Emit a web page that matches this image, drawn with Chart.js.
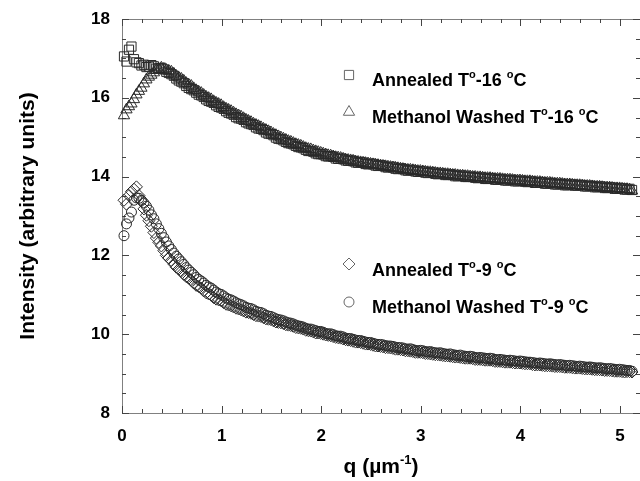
<!DOCTYPE html>
<html>
<head>
<meta charset="utf-8">
<script src="https://cdn.jsdelivr.net/npm/chart.js@4.4.0/dist/chart.umd.min.js"></script>
<style>
html, body { margin: 0; padding: 0; background: #fff; overflow: hidden; }
#wrap { width: 640px; height: 481px; position: relative; }
</style>
</head>
<body>
<div id="wrap"><canvas id="chart"></canvas></div>
<script>
// q values (µm^-1), shared by all four series
const q = [
    0.02, 0.07, 0.12, 0.17, 0.22, 0.27, 0.32, 0.37, 0.42, 0.47,
    0.52, 0.57, 0.62, 0.67, 0.72, 0.77, 0.82, 0.87, 0.92, 0.97,
    1.02, 1.07, 1.12, 1.17, 1.22, 1.27, 1.32, 1.37, 1.42, 1.47,
    1.52, 1.57, 1.62, 1.67, 1.72, 1.77, 1.82, 1.87, 1.92, 1.97,
    2.02, 2.07, 2.12, 2.17, 2.22, 2.27, 2.32, 2.37, 2.42, 2.47,
    2.52, 2.57, 2.62, 2.67, 2.72, 2.77, 2.82, 2.87, 2.92, 2.97,
    3.02, 3.07, 3.12, 3.17, 3.22, 3.27, 3.32, 3.37, 3.42, 3.47,
    3.52, 3.57, 3.62, 3.67, 3.72, 3.77, 3.82, 3.87, 3.92, 3.97,
    4.02, 4.07, 4.12, 4.17, 4.22, 4.27, 4.32, 4.37, 4.42, 4.47,
    4.52, 4.57, 4.62, 4.67, 4.72, 4.77, 4.82, 4.87, 4.92, 4.97,
    5.02, 5.07, 5.12
];
// the in-between measurement points
const qMid = [
    0.045, 0.095, 0.145, 0.195, 0.245, 0.295, 0.345, 0.395, 0.445, 0.495,
    0.545, 0.595, 0.645, 0.695, 0.745, 0.795, 0.845, 0.895, 0.945, 0.995,
    1.045, 1.095, 1.145, 1.195, 1.245, 1.295, 1.345, 1.395, 1.445, 1.495,
    1.545, 1.595, 1.645, 1.695, 1.745, 1.795, 1.845, 1.895, 1.945, 1.995,
    2.045, 2.095, 2.145, 2.195, 2.245, 2.295, 2.345, 2.395, 2.445, 2.495,
    2.545, 2.595, 2.645, 2.695, 2.745, 2.795, 2.845, 2.895, 2.945, 2.995,
    3.045, 3.095, 3.145, 3.195, 3.245, 3.295, 3.345, 3.395, 3.445, 3.495,
    3.545, 3.595, 3.645, 3.695, 3.745, 3.795, 3.845, 3.895, 3.945, 3.995,
    4.045, 4.095, 4.145, 4.195, 4.245, 4.295, 4.345, 4.395, 4.445, 4.495,
    4.545, 4.595, 4.645, 4.695, 4.745, 4.795, 4.845, 4.895, 4.945, 4.995,
    5.045, 5.095
];

const annealed16 = [
    17.05, 17.22, 16.98, 16.88, 16.84, 16.79, 16.80, 16.75, 16.72, 16.63,
    16.56, 16.44, 16.37, 16.25, 16.19, 16.08, 16.02, 15.92, 15.87, 15.77,
    15.72, 15.62, 15.57, 15.48, 15.44, 15.35, 15.31, 15.22, 15.18, 15.09,
    15.05, 14.96, 14.92, 14.85, 14.82, 14.75, 14.72, 14.65, 14.63, 14.57,
    14.56, 14.51, 14.50, 14.45, 14.44, 14.40, 14.39, 14.35, 14.35, 14.31,
    14.31, 14.27, 14.27, 14.23, 14.23, 14.19, 14.19, 14.15, 14.16, 14.12,
    14.13, 14.09, 14.10, 14.06, 14.07, 14.04, 14.04, 14.01, 14.02, 13.99,
    13.99, 13.96, 13.97, 13.94, 13.95, 13.92, 13.93, 13.90, 13.91, 13.88,
    13.89, 13.86, 13.87, 13.84, 13.85, 13.82, 13.83, 13.80, 13.81, 13.78,
    13.80, 13.77, 13.78, 13.75, 13.76, 13.73, 13.74, 13.71, 13.72, 13.69,
    13.70, 13.67, 13.66
];
const annealed16Mid = [
    16.92, 17.30, 16.90, 16.82, 16.78, 16.83, 16.74, 16.76, 16.66, 16.60,
    16.49, 16.41, 16.30, 16.22, 16.13, 16.06, 15.96, 15.90, 15.81, 15.75,
    15.66, 15.60, 15.51, 15.47, 15.38, 15.33, 15.25, 15.21, 15.12, 15.08,
    14.99, 14.95, 14.88, 14.84, 14.78, 14.74, 14.68, 14.65, 14.59, 14.57,
    14.52, 14.52, 14.46, 14.46, 14.41, 14.41, 14.36, 14.37, 14.32, 14.33,
    14.28, 14.29, 14.24, 14.25, 14.20, 14.21, 14.16, 14.17, 14.13, 14.14,
    14.10, 14.11, 14.07, 14.08, 14.04, 14.06, 14.01, 14.03, 13.99, 14.00,
    13.97, 13.98, 13.94, 13.96, 13.92, 13.94, 13.90, 13.92, 13.88, 13.90,
    13.87, 13.88, 13.84, 13.86, 13.82, 13.84, 13.80, 13.82, 13.78, 13.80,
    13.77, 13.79, 13.75, 13.77, 13.73, 13.75, 13.71, 13.73, 13.69, 13.71,
    13.67, 13.69
];

const methanol16 = [
    15.55, 15.78, 15.96, 16.17, 16.36, 16.53, 16.64, 16.72, 16.73, 16.68,
    16.61, 16.51, 16.43, 16.33, 16.24, 16.15, 16.07, 15.99, 15.91, 15.84,
    15.76, 15.69, 15.62, 15.55, 15.48, 15.41, 15.34, 15.28, 15.21, 15.15,
    15.08, 15.02, 14.96, 14.90, 14.85, 14.80, 14.75, 14.70, 14.66, 14.62,
    14.58, 14.54, 14.51, 14.48, 14.45, 14.42, 14.40, 14.37, 14.35, 14.33,
    14.31, 14.29, 14.27, 14.25, 14.23, 14.21, 14.19, 14.17, 14.16, 14.14,
    14.13, 14.11, 14.10, 14.08, 14.07, 14.06, 14.04, 14.03, 14.02, 14.01,
    13.99, 13.98, 13.97, 13.96, 13.95, 13.94, 13.93, 13.92, 13.91, 13.90,
    13.89, 13.88, 13.87, 13.86, 13.85, 13.84, 13.83, 13.82, 13.81, 13.80,
    13.79, 13.78, 13.77, 13.76, 13.75, 13.74, 13.73, 13.72, 13.71, 13.70,
    13.69, 13.68, 13.64
];
const methanol16Mid = [
    15.70, 15.85, 16.08, 16.25, 16.46, 16.58, 16.70, 16.76, 16.70, 16.66,
    16.55, 16.48, 16.37, 16.30, 16.19, 16.12, 16.02, 15.96, 15.87, 15.81,
    15.72, 15.66, 15.58, 15.52, 15.44, 15.38, 15.31, 15.25, 15.18, 15.12,
    15.05, 14.99, 14.93, 14.88, 14.82, 14.78, 14.72, 14.69, 14.64, 14.60,
    14.56, 14.53, 14.49, 14.47, 14.43, 14.41, 14.38, 14.36, 14.34, 14.32,
    14.30, 14.28, 14.26, 14.24, 14.22, 14.20, 14.18, 14.17, 14.15, 14.14,
    14.12, 14.11, 14.09, 14.08, 14.06, 14.05, 14.04, 14.02, 14.01, 14.00,
    13.99, 13.98, 13.96, 13.96, 13.94, 13.94, 13.92, 13.92, 13.90, 13.90,
    13.88, 13.88, 13.86, 13.86, 13.84, 13.84, 13.82, 13.82, 13.80, 13.80,
    13.78, 13.78, 13.76, 13.76, 13.74, 13.74, 13.72, 13.72, 13.70, 13.70,
    13.68, 13.67
];

const annealed9 = [
    13.40, 13.52, 13.68, 13.52, 13.18, 12.88, 12.58, 12.33, 12.12, 11.93,
    11.78, 11.65, 11.52, 11.42, 11.30, 11.21, 11.10, 11.02, 10.93, 10.87,
    10.80, 10.74, 10.69, 10.64, 10.59, 10.55, 10.50, 10.46, 10.42, 10.38,
    10.34, 10.30, 10.27, 10.23, 10.20, 10.16, 10.13, 10.09, 10.06, 10.03,
    10.00, 9.97, 9.94, 9.91, 9.88, 9.85, 9.82, 9.80, 9.77, 9.75,
    9.72, 9.70, 9.68, 9.66, 9.64, 9.62, 9.60, 9.58, 9.56, 9.54,
    9.53, 9.51, 9.49, 9.48, 9.46, 9.45, 9.43, 9.42, 9.40, 9.39,
    9.38, 9.36, 9.35, 9.34, 9.33, 9.31, 9.30, 9.29, 9.28, 9.27,
    9.26, 9.25, 9.23, 9.22, 9.21, 9.20, 9.19, 9.18, 9.17, 9.16,
    9.15, 9.14, 9.13, 9.12, 9.11, 9.10, 9.09, 9.08, 9.07, 9.06,
    9.05, 9.05, 9.04
];
const annealed9Mid = [
    13.30, 13.62, 13.74, 13.38, 13.02, 12.74, 12.44, 12.24, 12.00, 11.87,
    11.70, 11.60, 11.46, 11.37, 11.24, 11.17, 11.05, 10.99, 10.89, 10.85,
    10.76, 10.72, 10.66, 10.62, 10.56, 10.53, 10.47, 10.45, 10.39, 10.37,
    10.31, 10.29, 10.24, 10.22, 10.17, 10.15, 10.10, 10.08, 10.03, 10.02,
    9.98, 9.96, 9.92, 9.90, 9.86, 9.84, 9.80, 9.79, 9.75, 9.74,
    9.70, 9.69, 9.66, 9.65, 9.62, 9.61, 9.58, 9.57, 9.54, 9.54,
    9.51, 9.50, 9.48, 9.47, 9.45, 9.44, 9.42, 9.41, 9.39, 9.39,
    9.36, 9.36, 9.34, 9.34, 9.31, 9.31, 9.29, 9.29, 9.27, 9.27,
    9.25, 9.25, 9.22, 9.22, 9.20, 9.20, 9.18, 9.18, 9.16, 9.16,
    9.14, 9.14, 9.12, 9.12, 9.10, 9.10, 9.08, 9.08, 9.06, 9.06,
    9.04, 9.05
];

const methanol9 = [
    12.50, 12.95, 13.40, 13.45, 13.33, 13.15, 12.93, 12.68, 12.45, 12.24,
    12.06, 11.91, 11.77, 11.63, 11.51, 11.39, 11.30, 11.20, 11.12, 11.03,
    10.97, 10.89, 10.84, 10.77, 10.72, 10.66, 10.62, 10.56, 10.52, 10.46,
    10.42, 10.37, 10.34, 10.29, 10.26, 10.21, 10.18, 10.13, 10.11, 10.07,
    10.05, 10.01, 9.99, 9.95, 9.93, 9.89, 9.87, 9.84, 9.82, 9.79,
    9.77, 9.74, 9.73, 9.70, 9.69, 9.66, 9.65, 9.62, 9.61, 9.58,
    9.58, 9.55, 9.54, 9.52, 9.51, 9.49, 9.48, 9.46, 9.45, 9.43,
    9.43, 9.40, 9.40, 9.38, 9.38, 9.35, 9.35, 9.33, 9.33, 9.31,
    9.31, 9.29, 9.28, 9.26, 9.26, 9.24, 9.24, 9.22, 9.22, 9.20,
    9.20, 9.18, 9.18, 9.16, 9.16, 9.14, 9.14, 9.12, 9.12, 9.10,
    9.10, 9.08, 9.06
];
const methanol9Mid = [
    12.80, 13.10, 13.46, 13.40, 13.25, 13.03, 12.80, 12.56, 12.34, 12.15,
    11.98, 11.84, 11.69, 11.57, 11.44, 11.35, 11.24, 11.17, 11.07, 11.01,
    10.92, 10.87, 10.80, 10.75, 10.68, 10.65, 10.58, 10.55, 10.48, 10.45,
    10.39, 10.36, 10.31, 10.28, 10.23, 10.20, 10.15, 10.13, 10.09, 10.07,
    10.02, 10.01, 9.96, 9.95, 9.90, 9.89, 9.85, 9.84, 9.80, 9.79,
    9.75, 9.74, 9.71, 9.70, 9.67, 9.66, 9.63, 9.63, 9.59, 9.59,
    9.56, 9.56, 9.53, 9.53, 9.50, 9.50, 9.47, 9.47, 9.44, 9.44,
    9.41, 9.41, 9.39, 9.39, 9.36, 9.36, 9.34, 9.34, 9.32, 9.32,
    9.30, 9.29, 9.27, 9.27, 9.25, 9.25, 9.23, 9.23, 9.21, 9.21,
    9.19, 9.19, 9.17, 9.17, 9.15, 9.15, 9.13, 9.13, 9.11, 9.11,
    9.09, 9.08
];

const xTicks = [0, 1, 2, 3, 4, 5];
const yTicks = [8, 10, 12, 14, 16, 18];

// '^' marks the next character as a superscript
const seriesLabels = [
    'Annealed T^o-16 ^oC',
    'Methanol Washed T^o-16 ^oC',
    'Annealed T^o-9 ^oC',
    'Methanol Washed T^o-9 ^oC'
];
const xTitle = 'q (\u00b5m^-^1)';
const yTitle = 'Intensity (arbitrary units)';

const FONT = '"Liberation Sans", Arial, sans-serif';
const INK = '#2a2a2a';

function points(grid, values) {
    return values.map((v, i) => ({ x: grid[i], y: v }));
}

function pointSet(label, values, midValues, style, radius, order) {
    return {
        label: label,
        data: points(q, values).concat(points(qMid, midValues)),
        pointStyle: style,
        pointRadius: radius,
        pointHoverRadius: radius,
        pointBorderWidth: 1,
        borderColor: INK,
        backgroundColor: 'rgba(0,0,0,0)',
        showLine: false,
        clip: false,
        order: order
    };
}

// draw text with '^' superscripts; y is the baseline
function richText(ctx, str, x, y, size, align) {
    const parts = [];
    for (let i = 0; i < str.length; i++) {
        if (str[i] === '^' && i + 1 < str.length) {
            parts.push({ t: str[i + 1], sup: true });
            i++;
        } else {
            parts.push({ t: str[i], sup: false });
        }
    }
    const supSize = Math.round(size * 0.62);
    let total = 0;
    parts.forEach(p => {
        ctx.font = 'bold ' + (p.sup ? supSize : size) + 'px ' + FONT;
        p.w = ctx.measureText(p.t).width;
        total += p.w;
    });
    let cx = align === 'center' ? x - total / 2 : x;
    ctx.textAlign = 'left';
    ctx.textBaseline = 'alphabetic';
    parts.forEach(p => {
        ctx.font = 'bold ' + (p.sup ? supSize : size) + 'px ' + FONT;
        ctx.fillText(p.t, cx, p.sup ? y - size * 0.42 : y);
        cx += p.w;
    });
}

const framePlugin = {
    id: 'frame',
    beforeDatasetsDraw(chart) {
        const ctx = chart.ctx;
        const a = chart.chartArea;
        const xs = chart.scales.x, ys = chart.scales.y;
        ctx.save();
        ctx.strokeStyle = '#808080';
        ctx.lineWidth = 1;
        ctx.beginPath();
        ctx.rect(Math.round(a.left) + 0.5, Math.round(a.top) + 0.5,
            Math.round(a.right - a.left), Math.round(a.bottom - a.top));
        ctx.stroke();
        ctx.strokeStyle = '#444';
        ctx.beginPath();
        for (let k = 0; k <= 26; k++) {
            const v = k * 0.2;
            const px = Math.round(xs.getPixelForValue(v)) + 0.5;
            const len = k % 5 === 0 ? 7 : 4;
            ctx.moveTo(px, a.bottom); ctx.lineTo(px, a.bottom - len);
            ctx.moveTo(px, a.top); ctx.lineTo(px, a.top + len);
        }
        for (let k = 0; k <= 20; k++) {
            const v = 8 + k * 0.5;
            const py = Math.round(ys.getPixelForValue(v)) + 0.5;
            const len = k % 4 === 0 ? 7 : 4;
            ctx.moveTo(a.left, py); ctx.lineTo(a.left + len, py);
            ctx.moveTo(a.right, py); ctx.lineTo(a.right - len, py);
        }
        ctx.stroke();
        ctx.restore();
    },
    afterDraw(chart) {
        const ctx = chart.ctx;
        const a = chart.chartArea;
        ctx.save();
        ctx.fillStyle = '#000';
        // axis titles
        richText(ctx, xTitle, (a.left + a.right) / 2, 473, 21, 'center');
        ctx.save();
        ctx.translate(34, (a.top + a.bottom) / 2);
        ctx.rotate(-Math.PI / 2);
        richText(ctx, yTitle, 0, 0, 21, 'center');
        ctx.restore();
        // legend entries
        const rows = [
            { ds: 0, mx: 349, my: 75, ty: 86 },
            { ds: 1, mx: 349, my: 112, ty: 123 },
            { ds: 2, mx: 349, my: 264, ty: 276 },
            { ds: 3, mx: 349, my: 302, ty: 313 }
        ];
        rows.forEach(r => {
            const d = chart.data.datasets[r.ds];
            ctx.strokeStyle = '#666';
            ctx.fillStyle = 'rgba(0,0,0,0)';
            ctx.lineWidth = 1;
            Chart.helpers.drawPoint(ctx, {
                pointStyle: d.pointStyle, radius: d.pointRadius,
                rotation: 0, borderWidth: 1
            }, r.mx, r.my);
            ctx.fillStyle = '#000';
            richText(ctx, seriesLabels[r.ds], 372, r.ty, 18, 'left');
        });
        ctx.restore();
    }
};

const ctx = document.getElementById('chart').getContext('2d');
new Chart(ctx, {
    type: 'scatter',
    data: {
        datasets: [
            pointSet(seriesLabels[0], annealed16, annealed16Mid, 'rect', 6.5, 2),
            pointSet(seriesLabels[1], methanol16, methanol16Mid, 'triangle', 6.5, 0),
            pointSet(seriesLabels[2], annealed9, annealed9Mid, 'rectRot', 6, 3),
            pointSet(seriesLabels[3], methanol9, methanol9Mid, 'circle', 5, 1)
        ]
    },
    options: {
        responsive: true,
        maintainAspectRatio: false,
        animation: false,
        layout: { autoPadding: false, padding: { top: 19, right: 0, left: 0, bottom: 0 } },
        plugins: {
            legend: { display: false },
            tooltip: { enabled: false }
        },
        scales: {
            x: {
                type: 'linear',
                min: 0,
                max: 5.2,
                afterFit: s => { s.height = 68; s.paddingLeft = 0; s.paddingRight = 0; },
                afterBuildTicks: s => { s.ticks = xTicks.map(v => ({ value: v })); },
                grid: { display: false, drawTicks: false },
                border: { display: false },
                ticks: {
                    color: '#000',
                    padding: 13,
                    maxRotation: 0,
                    autoSkip: false,
                    font: { family: FONT, size: 17, weight: 'bold' }
                }
            },
            y: {
                type: 'linear',
                min: 8,
                max: 18,
                afterFit: s => { s.width = 122; s.paddingTop = 0; s.paddingBottom = 0; },
                afterBuildTicks: s => { s.ticks = yTicks.map(v => ({ value: v })); },
                grid: { display: false, drawTicks: false },
                border: { display: false },
                ticks: {
                    color: '#000',
                    padding: 12,
                    font: { family: FONT, size: 17, weight: 'bold' }
                }
            }
        }
    },
    plugins: [framePlugin]
});
</script>
</body>
</html>
